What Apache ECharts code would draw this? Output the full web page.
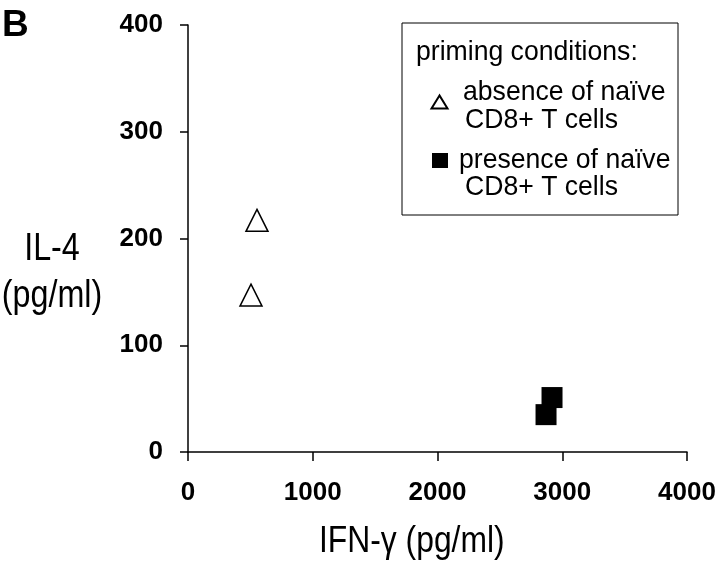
<!DOCTYPE html>
<html>
<head>
<meta charset="utf-8">
<script src="https://cdn.jsdelivr.net/npm/echarts@6/dist/echarts.min.js"></script>
<style>html,body{margin:0;padding:0;background:#fff;}#c{width:720px;height:566px;}</style>
</head>
<body>
<div id="c"></div>
<script>
// Data
const absenceIFN = [553, 505];
const absenceIL4 = [217, 147];
const presenceIFN = [2918, 2870];
const presenceIL4 = [51, 35];
const xTicks = [0, 1000, 2000, 3000, 4000];
const yTicks = [0, 100, 200, 300, 400];
const seriesNames = ['absence of naïve CD8+ T cells', 'presence of naïve CD8+ T cells'];
const legendTitle = 'priming conditions:';
const xTitle = 'IFN-γ (pg/ml)';
const yTitleLines = ['IL-4', '(pg/ml)'];

const SANS = '"Liberation Sans", Arial, sans-serif';

const chart = echarts.init(document.getElementById('c'), null, {renderer: 'canvas'});
const zip = (a, b) => a.map((v, i) => [v, b[i]]);

function txt(x, y, s, size, sx, align) {
  return {type: 'text', x: x, y: y, scaleX: sx, originX: 0, originY: 0,
    style: {text: s, fill: '#000', font: size + 'px ' + SANS, verticalAlign: 'middle', align: align || 'left'}};
}

chart.setOption({
  backgroundColor: '#fff',
  animation: false,
  grid: {left: 188, right: 33, top: 25, bottom: 114, containLabel: false, outerBoundsMode: 'none'},
  xAxis: {
    type: 'value', min: xTicks[0], max: xTicks[xTicks.length - 1], interval: 1000,
    axisLine: {show: true, onZero: false, lineStyle: {color: '#000', width: 1.5}},
    axisTick: {show: true, inside: false, length: 9, lineStyle: {color: '#000', width: 1.5}},
    splitLine: {show: false},
    axisLabel: {color: '#000', fontFamily: SANS, fontWeight: 'bold', fontSize: 26, margin: 28,
      formatter: v => String(v)}
  },
  yAxis: {
    type: 'value', min: yTicks[0], max: yTicks[yTicks.length - 1], interval: 100,
    axisLine: {show: true, onZero: false, lineStyle: {color: '#000', width: 1.5}},
    axisTick: {show: true, inside: false, length: 8, lineStyle: {color: '#000', width: 1.5}},
    splitLine: {show: false},
    axisLabel: {color: '#000', fontFamily: SANS, fontWeight: 'bold', fontSize: 26, margin: 25,
      formatter: v => String(v)}
  },
  series: [
    {
      name: seriesNames[0], type: 'scatter', symbol: 'triangle', symbolSize: 22,
      itemStyle: {color: '#fff', borderColor: '#000', borderWidth: 1.5, opacity: 1},
      data: zip(absenceIFN, absenceIL4)
    },
    {
      name: seriesNames[1], type: 'scatter', symbol: 'rect', symbolSize: 21,
      itemStyle: {color: '#000', opacity: 1},
      data: zip(presenceIFN, presenceIL4)
    }
  ],
  graphic: [
    {type: 'text', x: 2, y: 7, style: {text: 'B', fill: '#000', font: 'bold 37px ' + SANS}},
    // axis titles
    txt(412 - 93, 542, xTitle, 37, 0.86, 'left'),
    txt(52, 250, yTitleLines[0], 38, 0.85, 'center'),
    txt(52, 297, yTitleLines[1], 38, 0.85, 'center'),
    // legend box
    {type: 'rect', shape: {x: 402, y: 23, width: 276, height: 192}, style: {fill: '#fff', stroke: '#000', lineWidth: 1}},
    txt(416, 52, legendTitle, 28, 0.95),
    {type: 'polygon', shape: {points: [[439.5, 95.5], [431.5, 108.5], [447.5, 108.5]]}, style: {fill: '#fff', stroke: '#000', lineWidth: 2}},
    txt(463, 92, 'absence of naïve', 28, 0.95),
    txt(465, 120, 'CD8+ T cells', 28, 0.95),
    {type: 'rect', shape: {x: 432, y: 153, width: 16, height: 15}, style: {fill: '#000'}},
    txt(459, 160, 'presence of naïve', 28, 0.95),
    txt(465, 187, 'CD8+ T cells', 28, 0.95)
  ]
});
</script>
</body>
</html>
